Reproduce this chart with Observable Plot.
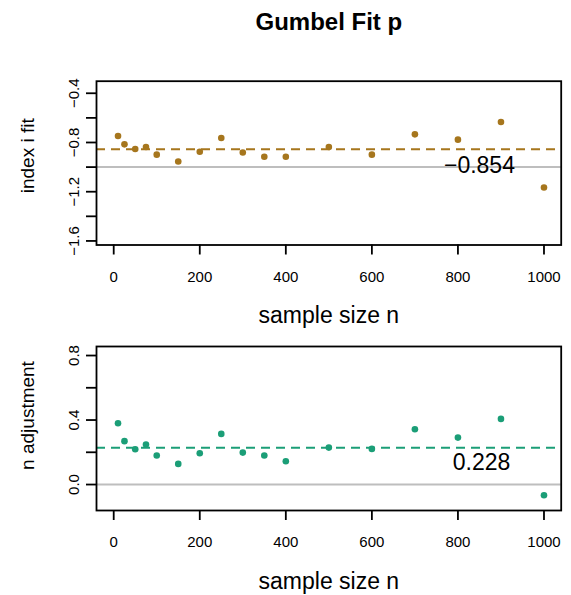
<!DOCTYPE html>
<html>
<head>
<meta charset="utf-8">
<script src="https://cdn.jsdelivr.net/npm/d3@7"></script>
<script src="https://cdn.jsdelivr.net/npm/@observablehq/plot@0.6"></script>
<style>
  html, body { margin: 0; padding: 0; background: white; }
  #wrap { position: relative; width: 571px; height: 595px; overflow: hidden; }
  #top, #bottom { position: absolute; left: 0; }
  #top { top: 0; }
  #bottom { top: 330px; }
</style>
</head>
<body>
<div id="wrap"><div id="top"></div><div id="bottom"></div></div>
<script>
// ---- data ----
const sampleSize = [10, 25, 50, 75, 100, 150, 200, 250, 300, 350, 400, 500, 600, 700, 800, 900, 1000];
const indexFit = [-0.747, -0.815, -0.853, -0.837, -0.899, -0.954, -0.875, -0.763, -0.881, -0.916, -0.916, -0.837, -0.899, -0.734, -0.777, -0.633, -1.166];
const nAdjustment = [0.380, 0.269, 0.219, 0.248, 0.180, 0.128, 0.194, 0.314, 0.198, 0.180, 0.144, 0.229, 0.221, 0.343, 0.291, 0.407, -0.066];

const indexFitMean = -0.854;
const indexFitRef = -1.0;
const nAdjMean = 0.228;
const nAdjRef = 0.0;

const xTicks = [0, 200, 400, 600, 800, 1000];
const xTickLabels = ["0", "200", "400", "600", "800", "1000"];

const topYTicks = [-0.4, -0.6, -0.8, -1.0, -1.2, -1.4, -1.6];
const topYLabelValues = [-0.4, -0.8, -1.2, -1.6];
const topYLabels = ["−0.4", "−0.8", "−1.2", "−1.6"];

const botYTicks = [0.0, 0.2, 0.4, 0.6, 0.8];
const botYLabelValues = [0.0, 0.4, 0.8];
const botYLabels = ["0.0", "0.4", "0.8"];

const titleText = "Gumbel Fit p";
const xTitle = "sample size n";
const topYTitle = "index i fit";
const botYTitle = "n adjustment";

const colTop = "#A6761D";
const colBot = "#1B9E77";

// ---- panel builder ----
function panel(cfg) {
  const data = sampleSize.map((n, i) => ({n, v: cfg.values[i]}));
  const marks = [
    Plot.ruleY([cfg.ref], {stroke: "#BEBEBE", strokeWidth: 2}),
    Plot.ruleY([cfg.mean], {stroke: cfg.color, strokeWidth: 2, strokeDasharray: "9,6"}),
    Plot.dot(data, {x: "n", y: "v", r: 3.3, fill: cfg.color, stroke: "none"}),
    Plot.text([{x: cfg.labelX, y: cfg.labelY, t: cfg.meanLabel}], {x: "x", y: "y", text: "t", fontSize: 23, textAnchor: "middle"}),
    Plot.frame({stroke: "black", strokeWidth: 1.8}),
    Plot.axisX({ticks: xTicks, tickFormat: (d, i) => xTickLabels[xTicks.indexOf(d)], tickSize: 10, tickPadding: 16, fontSize: 15, strokeWidth: 1.8, label: null}),
    Plot.axisY({ticks: cfg.yTicks, tickFormat: () => "", tickSize: 10, strokeWidth: 1.8, label: null}),
    Plot.text(cfg.yLabelValues, {y: d => d, text: (d, i) => cfg.yLabels[i], frameAnchor: "left", dx: -17.7, rotate: -90, textAnchor: "middle", lineAnchor: "bottom", fontSize: 15}),
    Plot.text([xTitle], {text: d => d, frameAnchor: "bottom", dy: 78.2, lineAnchor: "bottom", fontSize: 23}),
    Plot.text([cfg.yTitle], {text: d => d, frameAnchor: "left", dx: -63, dy: cfg.yTitleDy, rotate: -90, textAnchor: "middle", lineAnchor: "bottom", fontSize: 19})
  ];
  if (cfg.title) {
    marks.push(Plot.text([cfg.title], {text: d => d, frameAnchor: "top", dy: cfg.titleDy, lineAnchor: "bottom", fontSize: 24, fontWeight: "bold"}));
  }
  return Plot.plot({
    width: 571,
    height: cfg.height,
    marginLeft: 96,
    marginRight: 10.3,
    marginTop: cfg.marginTop,
    marginBottom: cfg.marginBottom,
    x: {domain: [-40, 1040], label: null},
    y: {domain: cfg.yDomain, label: null},
    style: {fontFamily: "'Liberation Sans', Arial, Helvetica, sans-serif", fontSize: "15px", color: "black", background: "white", overflow: "visible"},
    marks
  });
}

document.getElementById("top").appendChild(panel({
  values: indexFit, mean: indexFitMean, ref: indexFitRef, color: colTop,
  meanLabel: indexFitMean.toFixed(3).replace("-", "−"), labelX: 850, labelY: -0.99,
  yTicks: topYTicks, yLabelValues: topYLabelValues, yLabels: topYLabels,
  yDomain: [-1.633, -0.302], yTitle: topYTitle, yTitleDy: -7.3,
  height: 330, marginTop: 80.7, marginBottom: 85.5,
  title: titleText, titleDy: 30 - 80.7
}));

document.getElementById("bottom").appendChild(panel({
  values: nAdjustment, mean: nAdjMean, ref: nAdjRef, color: colBot,
  meanLabel: nAdjMean.toFixed(3), labelX: 855, labelY: 0.133,
  yTicks: botYTicks, yLabelValues: botYLabelValues, yLabels: botYLabels,
  yDomain: [-0.161, 0.856], yTitle: botYTitle, yTitleDy: -13,
  height: 265, marginTop: 16, marginBottom: 85
}));
</script>
</body>
</html>
